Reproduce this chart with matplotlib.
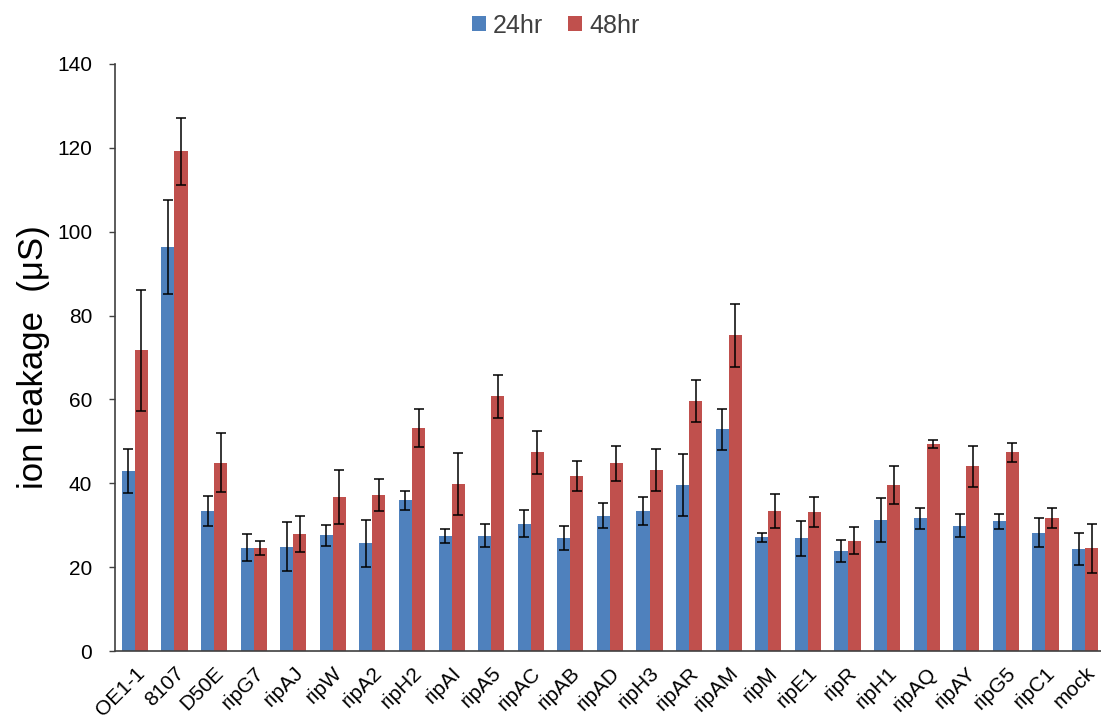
import numpy as np
import matplotlib.pyplot as plt

plt.rcParams['font.family'] = ['Liberation Sans', 'DejaVu Sans']

# 样品名称
samples = ['OE1-1', '8107', 'D50E', 'ripG7', 'ripAJ', 'ripW', 'ripA2', 'ripH2',
           'ripAI', 'ripA5', 'ripAC', 'ripAB', 'ripAD', 'ripH3', 'ripAR', 'ripAM',
           'ripM', 'ripE1', 'ripR', 'ripH1', 'ripAQ', 'ripAY', 'ripG5', 'ripC1', 'mock']

# 24hr 电导率及误差
hr24 = [42.9, 96.3, 33.3, 24.6, 24.9, 27.6, 25.7, 35.9,
        27.4, 27.5, 30.4, 26.9, 32.3, 33.4, 39.6, 52.9,
        27.1, 26.9, 23.8, 31.3, 31.6, 29.9, 30.9, 28.2, 24.3]
hr24_err = [5.3, 11.2, 3.6, 3.2, 5.9, 2.5, 5.6, 2.3,
            1.6, 2.8, 3.3, 2.8, 3.0, 3.3, 7.4, 4.9,
            1.0, 4.2, 2.6, 5.3, 2.4, 2.8, 1.7, 3.4, 3.9]

# 48hr 电导率及误差
hr48 = [71.7, 119.2, 44.9, 24.6, 27.9, 36.7, 37.3, 53.1,
        39.8, 60.7, 47.4, 41.7, 44.8, 43.2, 59.6, 75.3,
        33.4, 33.2, 26.3, 39.6, 49.3, 44.0, 47.4, 31.8, 24.5]
hr48_err = [14.4, 8.0, 7.0, 1.7, 4.4, 6.4, 3.8, 4.5,
            7.3, 5.2, 5.1, 3.5, 4.2, 5.0, 5.1, 7.5,
            4.0, 3.6, 3.2, 4.6, 0.9, 4.9, 2.3, 2.4, 5.9]

x = np.arange(len(samples))
w = 0.33

fig = plt.figure(figsize=(11.01, 7.26), dpi=100)
ax = fig.add_axes([0.1045, 0.1033, 0.899, 0.8087])

err_kw = dict(ecolor='black', elinewidth=1.1, capsize=3.5, capthick=1.1)
ax.bar(x - w / 2, hr24, w, yerr=hr24_err, color='#4F81BD', label='24hr', error_kw=err_kw)
ax.bar(x + w / 2, hr48, w, yerr=hr48_err, color='#C0504D', label='48hr', error_kw=err_kw)

ax.set_xlim(-0.5, 24.5)
ax.set_ylim(0, 140)
ax.set_yticks(range(0, 141, 20))
ax.set_xticks(x)
ax.set_xticklabels(samples, rotation=45, ha='right', rotation_mode='anchor', fontsize=15)
ax.tick_params(axis='x', length=0, pad=9)
ax.tick_params(axis='y', labelsize=15, length=4.5, width=1, color='#404040', pad=12)
ax.set_ylabel('ion leakage  (μS)', fontsize=25, labelpad=5)

for s in ['top', 'right']:
    ax.spines[s].set_visible(False)
for s in ['left', 'bottom']:
    ax.spines[s].set_color('#404040')
    ax.spines[s].set_linewidth(1.2)

fig.legend(loc='upper center', bbox_to_anchor=(0.505, 1.012), ncol=2, frameon=False,
           fontsize=18, handlelength=0.55, handleheight=0.55, handletextpad=0.3,
           columnspacing=1.0, labelcolor='#404040')

fig.savefig('out.png', dpi=100)
